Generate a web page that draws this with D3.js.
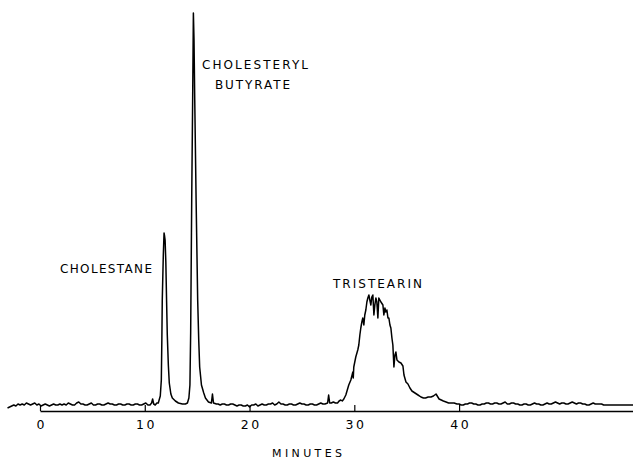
<!DOCTYPE html>
<html>
<head>
<meta charset="utf-8">
<script src="https://cdn.jsdelivr.net/npm/d3@7/dist/d3.min.js"></script>
<style>
  html, body { margin: 0; padding: 0; background: #fff; }
  svg { display: block; }
  text { font-family: "DejaVu Sans", "Liberation Sans", sans-serif; fill: #000; }
</style>
</head>
<body>
<svg id="chart" width="633" height="459"></svg>
<script>
// ---- DATA ----
const minutes = [
  -3.1,-2.9,-2.7,-2.5,-2.3,-2.1,-1.9,-1.7,-1.5,-1.3,-1.1,-0.9,-0.7,-0.5,-0.3,-0.1,0.1,0.3,0.5,0.7,0.9,1.1,1.3,1.5,1.7,1.9,2.1,2.3,2.5,2.7,2.9,3.1,3.3,3.5,3.7,3.9,4.1,4.3,4.5,4.7,4.9,5.1,5.3,5.5,5.7,5.9,6.1,6.3,6.5,6.7,6.9,7.1,7.3,7.5,7.7,7.9,8.1,8.3,8.5,8.7,8.9,9.1,9.3,9.5,9.7,9.9,10.1,10.3,10.5,10.65,10.75,10.85,11.0,11.15,11.29,
  11.48,11.58,11.63,11.67,11.77,11.84,11.89,11.94,12.01,12.08,12.15,12.25,12.34,12.49,12.63,12.92,13.21,13.59,13.88,14.07,14.21,14.31,
  14.38,14.48,14.57,14.64,14.70,14.77,14.90,15.05,15.15,15.24,15.41,15.63,15.79,16.08,16.36,16.46,16.56,16.84,
  17.0,17.2,17.4,17.6,17.8,18.0,18.2,18.4,18.6,18.8,19.0,19.2,19.4,19.6,19.8,20.0,20.2,20.4,20.6,20.8,21.0,21.2,21.4,21.6,21.8,22.0,22.2,22.4,22.6,22.8,23.0,23.2,23.4,23.6,23.8,24.0,24.2,24.4,24.6,24.8,25.0,25.2,25.4,25.6,25.8,26.0,26.2,26.4,26.6,26.8,27.0,27.2,27.45,27.55,27.65,27.8,28.0,28.2,28.4,28.55,28.71,28.85,29.0,
  29.19,29.47,29.67,29.86,29.90,29.95,30.14,30.33,30.43,30.53,30.62,30.72,30.81,30.91,31.00,31.10,31.20,31.29,31.39,31.48,31.58,31.67,31.77,31.87,31.96,32.06,32.15,32.25,32.34,32.44,32.54,32.73,32.82,32.92,33.01,33.11,33.21,33.30,33.40,33.49,33.59,33.68,33.78,33.88,33.97,34.07,34.26,34.45,34.64,34.74,34.93,35.12,35.31,35.50,35.79,36.08,36.36,36.6,36.8,37.05,37.32,37.55,37.80,38.09,38.3,38.5,38.76,39.0,39.2,39.52,39.8,
  40.0,40.2,40.4,40.6,40.8,41.0,41.2,41.4,41.6,41.8,42.0,42.2,42.4,42.6,42.8,43.0,43.2,43.4,43.6,43.8,44.0,44.2,44.4,44.6,44.8,45.0,45.2,45.4,45.6,45.8,46.0,46.2,46.4,46.6,46.8,47.0,47.2,47.4,47.6,47.8,48.0,48.2,48.4,48.6,48.8,49.0,49.2,49.4,49.6,49.8,50.0,50.2,50.4,50.6,50.8,51.0,51.2,51.4,51.6,51.8,52.0,52.2,52.4,52.6,52.8,53.0,53.2,53.4,53.6,53.8,54.0,54.4,54.8,55.2,55.6,56.0,56.8
];
const signal = [
  3,4,5,6,5,7,6,7,6,8,7,6,7,8,6,7,5,6,7,6,5,6,7,6,6,7,6,7,6,8,7,6,6,8,9,7,7,6,6,7,8,6,6,7,7,6,6,7,8,7,7,6,6,7,7,6,6,7,7,6,6,7,7,6,6,7,8,6,6,8,12,7,6,8,8,
  15,31,71,111,156,178,175,171,149,111,76,46,28,17,13,10,8,7,7,8,13,26,
  78,211,311,398,371,311,211,111,71,44,26,18,13,9,8,17,8,7,
  7,6,7,7,6,6,7,7,6,5,6,6,5,5,6,4,6,6,7,5,6,7,6,6,7,7,8,6,7,9,7,7,6,6,7,7,6,6,7,8,7,7,6,6,7,7,6,6,7,8,7,7,8,16,8,8,9,8,8,10,11,10,12,
  16,26,31,39,33,44,54,61,66,76,83,89,93,86,96,101,109,113,116,111,106,114,116,96,106,113,109,93,113,111,109,106,96,103,99,101,93,93,86,83,73,66,44,56,59,51,49,48,45,36,29,27,23,20,18,16,14,13,13,14,14,15,17,12,11,10,9,8,8,8,7,
  7,6,6,7,7,8,8,7,7,6,6,7,7,8,8,7,7,8,8,7,7,8,9,7,7,8,8,7,7,6,6,7,7,6,6,7,8,7,7,6,6,7,8,7,7,8,9,8,7,8,8,7,7,8,9,8,7,8,8,7,7,6,6,7,8,7,7,7,7,6,6,6,6,6,6,6,6
];
const tickMinutes = [0, 10, 20, 30, 40];
const axisTitle = "MINUTES";
const peakNames = ["CHOLESTANE", "CHOLESTERYL", "BUTYRATE", "TRISTEARIN"];

// ---- CHART ----
const svg = d3.select("#chart");
svg.append("rect").attr("width", 633).attr("height", 459).attr("fill", "#fff");

const x = d3.scaleLinear().domain([0, 56.6]).range([40, 633]);
const y = d3.scaleLinear().domain([0, 400]).range([411, 11]);

const pts = minutes.map((m, i) => [m, signal[i]]);

svg.append("path")
  .datum(pts)
  .attr("fill", "none")
  .attr("stroke", "#000")
  .attr("stroke-width", 1.5)
  .attr("stroke-linejoin", "round")
  .attr("d", d3.line().x(d => x(d[0])).y(d => y(d[1])));

const axis = svg.append("g")
  .attr("transform", `translate(0,${y(0)})`)
  .call(d3.axisBottom(x).tickValues(tickMinutes).tickSize(-6).tickSizeOuter(0).tickPadding(9).tickFormat(d3.format("d")));
axis.select(".domain").attr("stroke", "#000").attr("stroke-width", 1.4);
axis.selectAll(".tick line").attr("stroke", "#000").attr("stroke-width", 1.2);
axis.selectAll(".tick text")
  .attr("fill", "#000")
  .style("font-family", "'DejaVu Sans', sans-serif")
  .style("font-size", "12.5px")
  .style("letter-spacing", "2.5px")
  .attr("dx", "1.2px");

svg.append("text")
  .attr("x", 272).attr("y", 457)
  .attr("textLength", 70).attr("lengthAdjust", "spacing")
  .style("font-size", "11px")
  .text(axisTitle);

const labelSpecs = [
  {x: 60, y: 272.5, w: 92},
  {x: 202, y: 69, w: 106},
  {x: 215, y: 89, w: 75},
  {x: 333, y: 288, w: 89}
];
peakNames.forEach((name, i) => {
  const s = labelSpecs[i];
  svg.append("text")
    .attr("x", s.x).attr("y", s.y)
    .attr("textLength", s.w).attr("lengthAdjust", "spacing")
    .style("font-size", "12px")
    .text(name);
});
</script>
</body>
</html>
